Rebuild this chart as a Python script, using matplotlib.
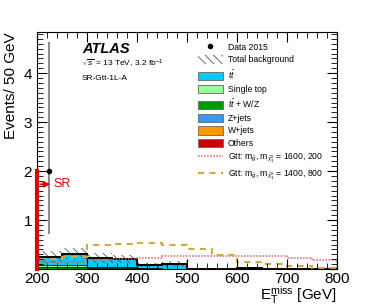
import numpy as np
import matplotlib
matplotlib.use("Agg")
import matplotlib.pyplot as plt
from matplotlib.patches import Patch
from matplotlib.lines import Line2D
from matplotlib.ticker import MultipleLocator, FuncFormatter

plt.rcParams['font.family'] = ['Liberation Sans', 'DejaVu Sans']
plt.rcParams['mathtext.fontset'] = 'custom'
plt.rcParams['mathtext.rm'] = 'Liberation Sans'
plt.rcParams['mathtext.it'] = 'Liberation Sans:italic'
plt.rcParams['hatch.linewidth'] = 0.6

# binning: 50 GeV from 200 to 800
edges = np.arange(200, 801, 50)

# stacked backgrounds (bottom -> top)
others = np.array([0.003, 0.003, 0.002, 0.002, 0.0, 0.0, 0.0, 0.0, 0.0, 0.0, 0.0, 0.0])
wjets = np.array([0.003, 0.003, 0.002, 0.001, 0.0, 0.0, 0.0, 0.0, 0.0, 0.0, 0.0, 0.0])
zjets = np.array([0.002, 0.002, 0.001, 0.001, 0.0, 0.0, 0.0, 0.0, 0.0, 0.0, 0.0, 0.0])
ttv = np.array([0.03, 0.03, 0.025, 0.02, 0.02, 0.01, 0.003, 0.002, 0.005, 0.001, 0.001, 0.001])
singletop = np.array([0.035, 0.035, 0.02, 0.01, 0.0, 0.0, 0.0, 0.0, 0.0, 0.0, 0.0, 0.0])
ttbar = np.array([0.177, 0.237, 0.18, 0.166, 0.06, 0.09, 0.007, 0.003, 0.01, 0.002, 0.001, 0.001])
bkg_err = np.array([0.12, 0.11, 0.10, 0.08, 0.04, 0.06, 0.01, 0.01, 0.01, 0.005, 0.005, 0.005])

# signal
gtt_1600_200 = np.array([0.15, 0.15, 0.19, 0.20, 0.23, 0.26, 0.26, 0.26, 0.26, 0.26, 0.22, 0.18])
gtt_1400_800 = np.array([0.20, 0.25, 0.50, 0.52, 0.54, 0.50, 0.41, 0.29, 0.15, 0.10, 0.07, 0.03])

# data
data_x = [225]
data_y = [2]
data_err_lo = [1.29]
data_err_hi = [2.64]

bkgs = [
    (others, '#cc0000', 'Others'),
    (wjets, '#ff9900', 'W+jets'),
    (zjets, '#3399ff', 'Z+jets'),
    (ttv, '#009900', r'$t\bar{t}$ + W/Z'),
    (singletop, '#99ff99', 'Single top'),
    (ttbar, '#00ccff', r'$t\bar{t}$'),
]

fig = plt.figure(figsize=(3.74, 3.07), dpi=100)
ax = fig.add_axes([37/374, 1-269/307, 300/374, 237/307])

base = np.zeros(len(edges) - 1)
for vals, col, lab in bkgs:
    ax.stairs(base + vals, edges, baseline=base, fill=True, facecolor=col,
              edgecolor='black', lw=0.5)
    base = base + vals
total = base
ax.stairs(total + bkg_err, edges, baseline=np.clip(total - bkg_err, 0, None), fill=True,
          facecolor='none', edgecolor='#555555', hatch='\\\\\\\\', lw=0)
ax.stairs(total, edges, color='black', lw=1.4)

ax.stairs(gtt_1600_200, edges, color='#d86060', ls=(0, (1, 1)), lw=1.1)
ax.stairs(gtt_1400_800, edges, color='#d4aa40', ls=(0, (3, 2.5)), lw=1.5)

ax.errorbar(data_x, data_y, yerr=[data_err_lo, data_err_hi], fmt='o', color='black',
            ms=3, ecolor='#777777', elinewidth=1.2, capsize=0, zorder=5)

# signal region marker
ax.plot([200, 200], [0, 2], color='#dd0000', lw=3, zorder=6, clip_on=False)
ax.annotate('', xy=(232, 1.73), xytext=(201, 1.73),
            arrowprops=dict(arrowstyle='-|>', color='#dd0000', lw=1.2, mutation_scale=9),
            zorder=6)
ax.text(232, 1.73, 'SR', color='#dd0000', fontsize=9, va='center', ha='left')

ax.set_xlim(200, 800)
ax.set_ylim(0, 4.84)
ax.xaxis.set_major_locator(MultipleLocator(100))
ax.xaxis.set_minor_locator(MultipleLocator(20))
ax.yaxis.set_major_locator(MultipleLocator(1))
ax.yaxis.set_minor_locator(MultipleLocator(0.1))
ax.yaxis.set_major_formatter(FuncFormatter(lambda v, p: '' if v == 0 else '%d' % v))
ax.tick_params(which='both', direction='in', top=True, right=True, labelsize=11)
ax.tick_params(which='major', length=7, width=0.8)
ax.tick_params(which='minor', length=4, width=0.6)
ax.tick_params(axis='x', pad=2)
ax.set_xlabel(r'E$_{\mathregular{T}}^{\mathregular{miss}}$ [GeV]', loc='right', fontsize=11, labelpad=-1)
ax.set_ylabel('Events/ 50 GeV', loc='top', fontsize=11, labelpad=4)

ax.text(0.15, 0.93, 'ATLAS', transform=ax.transAxes, fontsize=10.5, fontweight='bold',
        style='italic', va='center')
ax.text(0.15, 0.865, r'$\sqrt{s}$ = 13 TeV, 3.2 fb$^{-1}$', transform=ax.transAxes,
        fontsize=6, va='center')
ax.text(0.15, 0.805, 'SR-Gtt-1L-A', transform=ax.transAxes, fontsize=6, va='center')

handles = [Line2D([], [], marker='o', color='black', ls='none', ms=3),
           Patch(facecolor='none', edgecolor='#555555', hatch='\\\\\\\\', lw=0)]
labels = ['Data 2015', 'Total background']
for vals, col, lab in bkgs[::-1]:
    handles.append(Patch(facecolor=col, edgecolor='#666666', lw=0.6))
    labels.append(lab)
handles.append(Line2D([], [], color='#d86060', ls=(0, (1, 1)), lw=1.1))
labels.append(r'Gtt: m$_{\tilde{g}}$, m$_{\tilde{\chi}^0_1}$ = 1600, 200')
handles.append(Line2D([], [], color='#d4aa40', ls=(0, (3, 2.5)), lw=1.5))
labels.append(r'Gtt: m$_{\tilde{g}}$, m$_{\tilde{\chi}^0_1}$ = 1400, 800')

ax.legend(handles, labels, loc='upper left', bbox_to_anchor=(0.538, 0.955), frameon=False,
          fontsize=6.2, handlelength=2.8, handleheight=1.1, handletextpad=0.6,
          labelspacing=0.43, borderaxespad=0, borderpad=0)

fig.savefig('out.png', dpi=100)
